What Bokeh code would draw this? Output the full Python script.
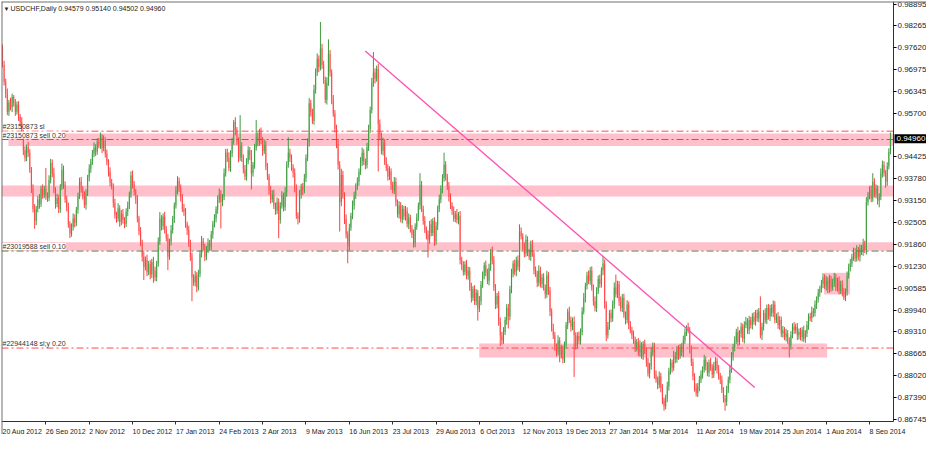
from bokeh.embed import file_html
from bokeh.models import (ColumnDataSource, FixedTicker, Label,
                          PrintfTickFormatter, Range1d, Span)
from bokeh.plotting import figure
from bokeh.resources import INLINE

# --- data (pips, price * 10000) ---
first_open = 9765
closes = [
    9712, 9662, 9628, 9575, 9602, 9588, 9618, 9600, 9575, 9596,
    9560, 9545, 9512, 9462, 9440, 9472, 9455, 9405, 9350, 9290,
    9255, 9290, 9318, 9305, 9350, 9332, 9348, 9330, 9322, 9375,
    9425, 9395, 9345, 9305, 9322, 9290, 9355, 9405, 9362, 9318,
    9295, 9245, 9218, 9238, 9262, 9250, 9288, 9328, 9370, 9348,
    9330, 9302, 9338, 9382, 9408, 9428, 9452, 9470, 9458, 9486,
    9478, 9500, 9468, 9490, 9452, 9428, 9398, 9368, 9356, 9308,
    9272, 9262, 9292, 9252, 9276, 9258, 9246, 9282, 9300, 9332,
    9388, 9362, 9340, 9318, 9262, 9225, 9190, 9150, 9120, 9142,
    9105, 9128, 9098, 9135, 9110, 9090, 9130, 9195, 9262, 9240,
    9268, 9230, 9205, 9150, 9195, 9228, 9260, 9300, 9345, 9372,
    9350, 9325, 9290, 9282, 9245, 9228, 9190, 9150, 9090, 9075,
    9095, 9060, 9100, 9160, 9195, 9180, 9150, 9170, 9190, 9178,
    9215, 9245, 9262, 9290, 9318, 9335, 9310, 9325, 9395, 9455,
    9440, 9410, 9452, 9490, 9545, 9520, 9488, 9440, 9475, 9440,
    9405, 9385, 9430, 9462, 9448, 9395, 9420, 9470, 9502, 9485,
    9515, 9492, 9460, 9478, 9415, 9385, 9345, 9318, 9335, 9300,
    9285, 9310, 9258, 9300, 9330, 9295, 9340, 9420, 9455, 9440,
    9412, 9395, 9350, 9270, 9262, 9330, 9355, 9345, 9380, 9440,
    9485, 9600, 9575, 9548, 9640, 9690, 9730, 9705, 9760, 9712,
    9668, 9610, 9660, 9745, 9690, 9610, 9570, 9525, 9480, 9420,
    9310, 9390, 9330, 9260, 9215, 9180, 9235, 9270, 9300, 9330,
    9355, 9370, 9400, 9430, 9455, 9430, 9418, 9470, 9525, 9580,
    9660, 9690, 9672, 9700, 9540, 9505, 9460, 9485, 9430, 9410,
    9385, 9400, 9360, 9345, 9370, 9310, 9275, 9300, 9260, 9290,
    9268, 9285, 9245, 9265, 9232, 9215, 9190, 9238, 9265, 9300,
    9360, 9290, 9255, 9230, 9215, 9200, 9245, 9220, 9255, 9195,
    9240, 9290, 9318, 9350, 9380, 9420, 9385, 9355, 9325, 9300,
    9285, 9262, 9275, 9258, 9270, 9140, 9125, 9105, 9128, 9095,
    9110, 9060, 9030, 9055, 9020, 9045, 8998, 9020, 9068, 9095,
    9125, 9105, 9080, 9118, 9165, 9140, 9060, 9010, 9035, 8960,
    8920, 8905, 8930, 8965, 9000, 8975, 9055, 9100, 9130, 9105,
    9140, 9120, 9225, 9210, 9180, 9160, 9200, 9165, 9150, 9185,
    9160, 9110, 9100, 9075, 9110, 9070, 9090, 9060, 9040, 9095,
    9050, 8990, 8940, 8920, 8885, 8870, 8905, 8862, 8880, 8850,
    8890, 8950, 8990, 8965, 8945, 8960, 8920, 8890, 8918, 8905,
    8930, 8990, 9030, 9065, 9095, 9080, 9110, 9060, 9020, 9000,
    9050, 9085, 9070, 9110, 9130, 9010, 8920, 8945, 8985, 8970,
    9010, 9060, 9040, 9070, 9020, 9000, 9030, 8980, 8965, 9010,
    8950, 8935, 8920, 8905, 8885, 8900, 8870, 8890, 8860, 8895,
    8875, 8840, 8808, 8830, 8870, 8888, 8805, 8790, 8775, 8800,
    8765, 8728, 8712, 8735, 8770, 8815, 8840, 8825, 8860, 8850,
    8878, 8860, 8885, 8870, 8905, 8930, 8945, 8935, 8880, 8840,
    8800, 8765, 8750, 8770, 8790, 8805, 8820, 8848, 8830, 8810,
    8840, 8825, 8805, 8830, 8845, 8820, 8800, 8790, 8760, 8735,
    8725, 8760, 8790, 8820, 8860, 8885, 8905, 8930, 8900, 8925,
    8945, 8910, 8950, 8960, 8935, 8965, 8950, 8975, 8960, 8985,
    8970, 8990, 8920, 8945, 8985, 8965, 9000, 8975, 9000, 8985,
    9010, 8965, 8975, 8950, 8965, 8925, 8935, 8915, 8925, 8905,
    8890, 8920, 8945, 8935, 8945, 8920, 8930, 8915, 8935, 8910,
    8925, 8950, 8975, 8970, 8990, 8985, 9010, 9025, 9045, 9055,
    9070, 9090, 9065, 9080, 9055, 9085, 9060, 9075, 9090, 9060,
    9080, 9050, 9070, 9045, 9030, 9048, 9095, 9120, 9130, 9150,
    9165, 9145, 9170, 9150, 9175, 9165, 9185, 9170, 9310, 9330,
    9345, 9320, 9370, 9335, 9350, 9315, 9325, 9395, 9420, 9395,
    9370, 9415, 9458, 9496,
]
# wick lengths above / below the body, pips
upper_wick = [
    7, 12, 10, 15, 8, 14, 10, 6, 12, 9,
    10, 8, 14, 9, 12, 7, 15, 10, 8, 12,
    14, 9, 11, 16, 8, 12, 10, 62, 9, 14,
    12, 10, 16, 9, 13, 10, 8, 18, 12, 9,
    11, 14, 9, 10, 15, 12, 8, 10, 12, 14,
    9, 12, 10, 8, 13, 9, 11, 15, 10, 11,
    12, 14, 9, 16, 10, 12, 8, 14, 10, 9,
    12, 10, 15, 9, 11, 14, 8, 10, 12, 9,
    12, 15, 10, 9, 13, 8, 12, 10, 16, 9,
    14, 10, 12, 9, 15, 11, 8, 12, 19, 10,
    9, 14, 10, 12, 8, 15, 10, 9, 12, 14,
    10, 12, 9, 15, 11, 8, 13, 10, 12, 9,
    14, 10, 12, 9, 16, 10, 8, 12, 14, 9,
    11, 10, 13, 8, 12, 15, 10, 9, 14, 11,
    12, 16, 10, 9, 6, 14, 10, 12, 90, 11,
    10, 14, 9, 12, 10, 15, 8, 11, 49, 12,
    10, 14, 9, 16, 12, 10, 8, 13, 10, 12,
    9, 14, 11, 10, 12, 8, 15, 10, 45, 12,
    10, 9, 14, 12, 10, 16, 9, 11, 13, 10,
    12, 15, 10, 9, 14, 12, 16, 10, 78, 14,
    12, 10, 16, 42, 11, 9, 14, 10, 12, 15,
    10, 18, 12, 9, 14, 10, 12, 9, 15, 11,
    10, 13, 9, 12, 15, 10, 8, 14, 12, 10,
    14, 60, 12, 10, 16, 12, 9, 14, 10, 12,
    11, 15, 9, 10, 14, 12, 8, 13, 10, 12,
    9, 14, 10, 12, 8, 11, 15, 10, 12, 9,
    35, 12, 10, 14, 9, 12, 10, 15, 8, 11,
    12, 10, 14, 9, 12, 35, 10, 8, 14, 11,
    10, 12, 9, 15, 11, 14, 10, 12, 9, 13,
    11, 10, 14, 9, 12, 10, 8, 15, 11, 12,
    9, 14, 10, 12, 8, 15, 12, 10, 9, 14,
    12, 10, 14, 9, 11, 12, 10, 15, 9, 12,
    10, 14, 20, 11, 9, 12, 15, 10, 8, 12,
    14, 10, 12, 9, 15, 11, 10, 12, 9, 14,
    10, 12, 9, 14, 10, 11, 15, 9, 12, 10,
    12, 9, 8, 14, 10, 12, 15, 9, 11, 13,
    10, 12, 14, 9, 11, 15, 10, 12, 9, 14,
    11, 10, 13, 9, 23, 12, 10, 14, 9, 11,
    12, 15, 38, 10, 9, 14, 11, 12, 10, 13,
    9, 12, 10, 14, 11, 9, 12, 15, 10, 8,
    12, 10, 14, 9, 15, 11, 10, 12, 9, 14,
    10, 12, 9, 11, 14, 10, 12, 9, 15, 11,
    10, 13, 9, 12, 14, 10, 4, 12, 9, 10,
    12, 9, 14, 10, 11, 12, 9, 15, 10, 12,
    9, 14, 10, 12, 11, 9, 13, 10, 12, 8,
    10, 12, 9, 14, 11, 10, 12, 9, 15, 10,
    12, 9, 11, 14, 10, 12, 9, 10, 13, 9,
    11, 10, 44, 12, 9, 14, 10, 12, 9, 11,
    12, 10, 9, 13, 11, 10, 12, 9, 14, 10,
    9, 12, 10, 14, 9, 11, 10, 12, 9, 13,
    10, 12, 9, 11, 14, 10, 12, 9, 11, 10,
    12, 12, 9, 14, 10, 12, 9, 11, 13, 10,
    9, 12, 10, 11, 14, 9, 12, 10, 14, 9,
    12, 10, 14, 9, 11, 10, 18, 12, 15, 10,
    12, 14, 25, 10, 12, 9, 11, 14, 12, 10,
    9, 12, 10, 18,
]
lower_wick = [
    7, 10, 13, 10, 12, 9, 14, 10, 12, 8,
    12, 10, 9, 14, 11, 10, 12, 9, 13, 10,
    23, 12, 10, 14, 9, 12, 10, 13, 11, 9,
    10, 12, 9, 14, 10, 12, 11, 9, 13, 10,
    12, 10, 13, 9, 11, 14, 10, 12, 9, 10,
    12, 9, 14, 10, 11, 12, 9, 10, 13, 9,
    10, 12, 14, 9, 11, 10, 13, 12, 9, 14,
    10, 12, 9, 14, 10, 11, 12, 9, 13, 10,
    9, 12, 10, 13, 11, 12, 9, 14, 38, 10,
    12, 9, 14, 10, 36, 11, 12, 9, 10, 13,
    11, 12, 10, 39, 9, 12, 10, 11, 9, 12,
    10, 13, 9, 12, 10, 14, 11, 12, 70, 10,
    12, 14, 9, 10, 12, 11, 13, 10, 9, 12,
    10, 12, 9, 11, 14, 10, 77, 12, 9, 10,
    12, 9, 11, 10, 12, 14, 10, 13, 9, 12,
    11, 10, 12, 9, 14, 48, 10, 12, 9, 11,
    10, 12, 14, 9, 11, 10, 13, 12, 9, 10,
    12, 10, 53, 11, 9, 12, 10, 14, 9, 12,
    10, 13, 11, 9, 17, 12, 10, 14, 9, 11,
    10, 12, 14, 9, 11, 12, 10, 14, 9, 12,
    11, 10, 14, 9, 12, 13, 10, 11, 12, 14,
    86, 12, 10, 14, 11, 49, 12, 9, 10, 12,
    11, 9, 12, 10, 14, 11, 12, 9, 10, 12,
    10, 12, 14, 9, 140, 12, 10, 13, 11, 9,
    12, 10, 14, 9, 11, 12, 10, 13, 9, 12,
    10, 12, 9, 14, 11, 10, 13, 12, 9, 10,
    12, 9, 11, 10, 14, 52, 12, 10, 9, 13,
    10, 12, 9, 11, 14, 10, 12, 9, 13, 10,
    12, 9, 11, 10, 13, 12, 14, 10, 9, 11,
    12, 10, 14, 9, 11, 12, 35, 10, 12, 9,
    11, 12, 10, 14, 9, 12, 10, 13, 11, 12,
    31, 12, 10, 9, 14, 35, 11, 12, 10, 9,
    12, 10, 14, 9, 11, 12, 10, 13, 9, 12,
    10, 12, 9, 14, 11, 10, 12, 9, 13, 10,
    12, 14, 9, 11, 10, 12, 9, 21, 10, 12,
    11, 10, 12, 9, 14, 10, 122, 12, 9, 11,
    12, 10, 9, 14, 11, 10, 12, 9, 13, 10,
    12, 9, 11, 10, 14, 12, 17, 10, 9, 12,
    10, 12, 9, 11, 14, 10, 12, 9, 13, 10,
    12, 9, 11, 10, 14, 12, 10, 13, 9, 12,
    10, 12, 9, 14, 11, 10, 12, 9, 13, 10,
    12, 10, 13, 9, 11, 12, 10, 14, 9, 12,
    10, 12, 9, 11, 14, 10, 12, 9, 13, 10,
    12, 10, 9, 11, 14, 10, 12, 9, 13, 10,
    12, 9, 11, 10, 14, 12, 10, 13, 9, 12,
    26, 12, 9, 11, 10, 14, 12, 10, 13, 9,
    12, 10, 14, 9, 11, 12, 10, 13, 9, 12,
    10, 12, 9, 14, 11, 10, 12, 9, 13, 10,
    12, 10, 9, 11, 14, 10, 12, 9, 13, 10,
    35, 12, 9, 11, 10, 14, 12, 10, 13, 9,
    12, 10, 14, 9, 11, 12, 10, 13, 9, 12,
    10, 12, 9, 14, 11, 10, 12, 9, 13, 10,
    12, 10, 9, 11, 7, 10, 12, 9, 13, 10,
    12, 10, 9, 11, 14, 10, 12, 9, 13, 10,
    12, 10, 9, 11, 14, 12, 20, 9, 13, 10,
    18, 12, 9, 8,
]

title_text = "USDCHF,Daily 0.94579 0.95140 0.94502 0.94960"
last_close = 0.94960

date_labels = [
    "20 Aug 2012", "26 Sep 2012", "2 Nov 2012", "10 Dec 2012", "17 Jan 2013",
    "24 Feb 2013", "2 Apr 2013", "9 May 2013", "16 Jun 2013", "23 Jul 2013",
    "29 Aug 2013", "6 Oct 2013", "12 Nov 2013", "19 Dec 2013", "27 Jan 2014",
    "5 Mar 2014", "11 Apr 2014", "19 May 2014", "25 Jun 2014", "1 Aug 2014",
    "8 Sep 2014",
]
bars_per_label = 27

price_ticks = [
    0.98895, 0.98265, 0.97620, 0.96975, 0.96345, 0.95700, 0.95055, 0.94425,
    0.93780, 0.93150, 0.92505, 0.91860, 0.91230, 0.90585, 0.89940, 0.89310,
    0.88665, 0.88020, 0.87390, 0.86745,
]

# pink zones: top, bottom, first bar, last bar (None = to the price scale)
zone_top = [0.95115, 0.93589, 0.91923, 0.88957, 0.91031]
zone_bottom = [0.94746, 0.93268, 0.91676, 0.88550, 0.90397]
zone_left = [3.7, -1.0, -1.0, 296.9, 511.7]
zone_right = [None, None, None, 513.6, 527.8]

# order lines
order_price = [0.95181, 0.94936, 0.91668, 0.88826]
order_text = ["#23150873 sl", "#23150873 sell 0.20", "#23019588 sell 0.10",
              "#22944148 sl;y 0.20"]
order_kind = ["sl", "sell", "sell", "sl"]

# trend line
trend_bar = [225.9, 468.5]
trend_price = [0.97531, 0.87669]

FONT = "Liberation Sans"
SMALL = "7px"
AXIS_SIZE = "8px"
UP_FILL, UP_LINE = "#86c986", "#3f9a3f"
DN_FILL, DN_LINE = "#ff9a9a", "#ff4040"

# price area in bars / price; the scales sit inside the frame (fixed_location)
X0, X1 = -0.62, 554.9
Y0, Y1 = 0.86674, 0.98980
W, H = 926, 434
CHART_W, CHART_H = 892, 420          # pixels of the price area
x_end = X1 + (W - 1 - CHART_W) * (X1 - X0) / CHART_W
y_start = Y0 - (H - 1 - CHART_H) * (Y1 - Y0) / CHART_H

# --- build ohlc ---
opens = [first_open] + closes[:-1]
highs = [max(o, c) + u for o, c, u in zip(opens, closes, upper_wick)]
lows = [min(o, c) - d for o, c, d in zip(opens, closes, lower_wick)]

up = dict(x=[], open=[], close=[], high=[], low=[])
dn = dict(x=[], open=[], close=[], high=[], low=[])
for i, (o, h, l, c) in enumerate(zip(opens, highs, lows, closes)):
    src = up if c >= o else dn
    src["x"].append(i)
    src["open"].append(o / 1e4)
    src["close"].append(c / 1e4)
    src["high"].append(h / 1e4)
    src["low"].append(l / 1e4)
up_src = ColumnDataSource(up)
dn_src = ColumnDataSource(dn)

# --- figure ---
p = figure(
    width=W, height=H,
    x_range=Range1d(X0, x_end), y_range=Range1d(y_start, Y1),
    y_axis_location="right",
    output_backend="svg", toolbar_location=None,
    min_border_left=1, min_border_top=1, min_border_right=0, min_border_bottom=0,
)
p.xgrid.visible = False
p.ygrid.visible = False
p.outline_line_color = None
p.background_fill_color = "white"
p.border_fill_color = "white"

# window edge, left and top
p.add_layout(Span(location=X0, dimension="height", line_color="#707070", line_width=2))
p.add_layout(Span(location=Y1, dimension="width", line_color="#707070", line_width=2))

# zones behind candles
p.quad(left=zone_left, right=[X1 if r is None else r for r in zone_right],
       top=zone_top, bottom=zone_bottom,
       fill_color="#ffc0cb", line_color=None, level="underlay")

# candles
p.vbar(x="x", width=0.8, top="close", bottom="open", source=up_src,
       fill_color=UP_FILL, line_color=None)
p.vbar(x="x", width=0.8, top="open", bottom="close", source=dn_src,
       fill_color=DN_FILL, line_color=None)
p.segment(x0="x", y0="low", x1="x", y1="high", source=up_src, line_color=UP_LINE, line_width=1)
p.segment(x0="x", y0="low", x1="x", y1="high", source=dn_src, line_color=DN_LINE, line_width=1)

# trend line
p.line(trend_bar, trend_price, line_color="#ff4fb4", line_width=1.3)

# order lines + their labels
for price, text, kind in zip(order_price, order_text, order_kind):
    col = "#ff4a4a" if kind == "sl" else "#4c8c4c"
    p.segment(x0=[X0], y0=[price], x1=[X1], y1=[price], line_color=col,
              line_width=1, line_dash="7 3 2 3")
    p.add_layout(Label(x=X0, y=price, x_offset=1, y_offset=1, text=text,
                       text_font=FONT, text_font_size=SMALL, text_color="#333333",
                       text_baseline="bottom",
                       background_fill_color="white" if kind == "sell" else None))

# price scale on the right edge of the price area; the tick under the tag is left out
shown_ticks = [t for t in price_ticks if abs(t - last_close) > 0.002]
p.yaxis.fixed_location = X1
p.yaxis.bounds = (Y0, Y1)
p.yaxis.ticker = FixedTicker(ticks=shown_ticks)
p.yaxis.formatter = PrintfTickFormatter(format="%.5f")
p.yaxis.major_tick_in = 0
p.yaxis.major_tick_out = 3
p.yaxis.minor_tick_line_color = None
p.yaxis.major_label_standoff = 1
p.yaxis.major_label_text_font = FONT
p.yaxis.major_label_text_font_size = AXIS_SIZE
p.yaxis.major_label_text_color = "#222222"
p.yaxis.axis_line_color = "#303030"

# time scale: MT4 writes each date to the right of its tick mark, so the tick
# marks are minor ticks and the (centred) labels sit half a label further on
EM = {" ": 0.278, "A": 0.667, "D": 0.722, "F": 0.611, "J": 0.5, "M": 0.833,
      "N": 0.722, "O": 0.778, "S": 0.667, "a": 0.556, "b": 0.556, "c": 0.5,
      "e": 0.556, "g": 0.556, "l": 0.222, "n": 0.556, "o": 0.556, "p": 0.556,
      "r": 0.333, "u": 0.556, "v": 0.5, "y": 0.5}
size_px = float(SMALL[:-2])
px_per_bar = CHART_W / (X1 - X0)
tick_bars = [k * bars_per_label for k in range(len(date_labels))]
label_pos = [b + sum(EM.get(ch, 0.556) for ch in s) * size_px / 2 / px_per_bar
             for b, s in zip(tick_bars, date_labels)]
p.xaxis.fixed_location = Y0
p.xaxis.bounds = (X0, X1)
p.xaxis.ticker = FixedTicker(ticks=label_pos, minor_ticks=tick_bars[1:])
p.xaxis.major_label_overrides = dict(zip(label_pos, date_labels))
p.xaxis.major_tick_line_color = None
p.xaxis.major_tick_out = 0
p.xaxis.major_tick_in = 0
p.xaxis.minor_tick_in = 0
p.xaxis.minor_tick_out = 3
p.xaxis.minor_tick_line_color = "#303030"
p.xaxis.major_label_standoff = 3
p.xaxis.major_label_text_font = FONT
p.xaxis.major_label_text_font_size = SMALL
p.xaxis.major_label_text_color = "#222222"
p.xaxis.axis_line_color = "#303030"

# title / quote line
p.add_layout(Label(x=X0, y=Y1, x_offset=2, y_offset=-4, text="\u25bc",
                   text_font_size="6px", text_color="#222222", text_baseline="top"))
p.add_layout(Label(x=X0, y=Y1, x_offset=9, y_offset=-3, text=title_text,
                   text_font=FONT, text_font_size=SMALL, text_color="#222222",
                   text_baseline="top"))

# current price tag on the price scale, drawn over everything
tag = Label(x=X1, y=last_close, x_offset=1, text="%.5f" % last_close,
            text_font=FONT, text_font_size=AXIS_SIZE, text_color="white",
            text_baseline="middle", background_fill_color="black",
            background_fill_alpha=1.0, level="overlay")
if hasattr(tag, "padding"):
    tag.padding = 2
p.add_layout(tag)

open("out.html", "w").write(file_html(p, INLINE))
